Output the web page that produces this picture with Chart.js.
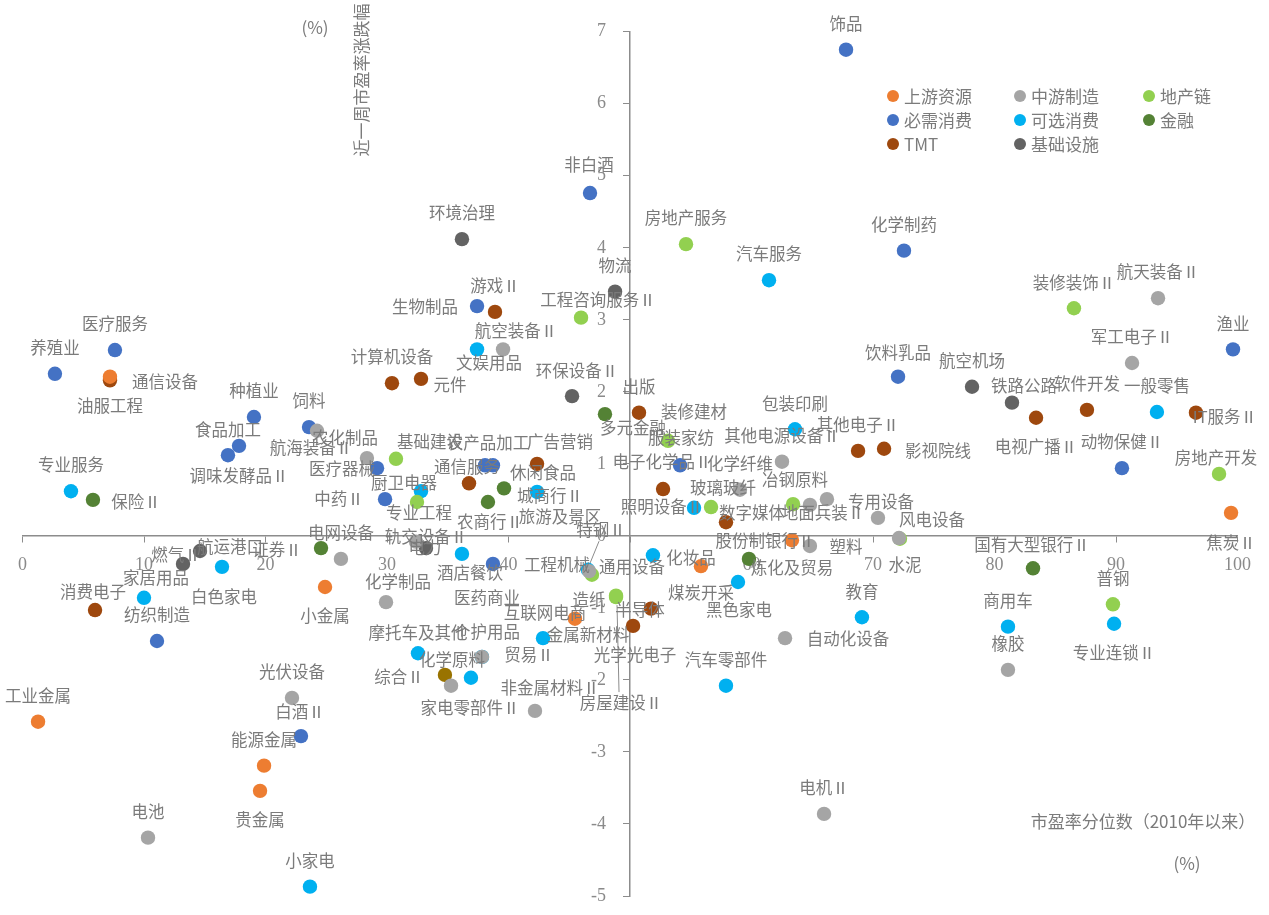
<!DOCTYPE html>
<html>
<head>
<meta charset="utf-8">
<script src="https://cdn.jsdelivr.net/npm/chart.js@4.4.0/dist/chart.umd.min.js"></script>
<style>
  html, body { margin: 0; background: #fff; }
  #wrap { width: 1269px; height: 915px; }
</style>
</head>
<body>
<div id="wrap"><canvas id="chart"></canvas></div>
<script>
// [行业, 市盈率分位数(%), 近一周市盈率涨跌幅(%)]
const upstream = [
  ['油服工程', 7.20, 2.21], ['小金属', 24.90, -0.71], ['互联网电商', 45.47, -1.15],
  ['工业金属', 1.28, -2.58], ['能源金属', 19.88, -3.19], ['贵金属', 19.55, -3.54],
  ['焦炭Ⅱ', 99.47, 0.32], ['炼化及贸易', 63.33, -0.06], ['煤炭开采', 55.84, -0.42]
];
const midstream = [
  ['航天装备Ⅱ', 93.46, 3.30], ['航空装备Ⅱ', 39.55, 2.59], ['航海装备Ⅱ', 24.24, 1.46],
  ['农化制品', 28.35, 1.08], ['电网设备', 26.21, -0.32], ['轨交设备Ⅱ', 32.39, -0.08],
  ['化学制品', 29.92, -0.92], ['特钢Ⅱ', 46.63, -0.49], ['贸易Ⅱ', 37.82, -1.68],
  ['家电零部件Ⅱ', 35.27, -2.08], ['非金属材料Ⅱ', 42.18, -2.43], ['光伏设备', 22.18, -2.25],
  ['电池', 10.33, -4.19], ['军工电子Ⅱ', 91.32, 2.40], ['橡胶', 81.11, -1.86],
  ['其他电源设备Ⅱ', 62.51, 1.03], ['化学纤维', 59.05, 0.64], ['地面兵装Ⅱ', 66.21, 0.51],
  ['冶钢原料', 64.81, 0.43], ['专用设备', 70.41, 0.25], ['风电设备', 72.14, -0.03],
  ['塑料', 64.81, -0.14], ['自动化设备', 62.76, -1.42], ['电机Ⅱ', 65.97, -3.86]
];
const property = [
  ['房地产服务', 54.61, 4.05], ['装修装饰Ⅱ', 86.54, 3.16], ['工程咨询服务Ⅱ', 45.97, 3.03],
  ['基础建设', 30.74, 1.07], ['专业工程', 32.47, 0.47], ['通用设备', 46.87, -0.54],
  ['房屋建设Ⅱ', 48.85, -0.85], ['造纸', 48.85, -0.83], ['装修建材', 53.13, 1.32],
  ['玻璃玻纤', 56.67, 0.40], ['', 63.42, 0.44], ['水泥', 72.22, -0.04],
  ['普钢', 89.75, -0.95], ['房地产开发', 98.48, 0.86]
];
const staples = [
  ['饰品', 67.78, 6.75], ['非白酒', 46.71, 4.76], ['化学制药', 72.55, 3.96],
  ['生物制品', 37.41, 3.19], ['医疗服务', 7.61, 2.58], ['养殖业', 2.67, 2.25],
  ['种植业', 19.05, 1.65], ['饲料', 23.58, 1.51], ['食品加工', 17.82, 1.25],
  ['调味发酵品Ⅱ', 16.91, 1.12], ['医疗器械', 29.18, 0.94], ['农产品加工', 38.07, 0.98],
  ['休闲食品', 38.72, 0.98], ['中药Ⅱ', 29.84, 0.51], ['医药商业', 38.72, -0.39],
  ['纺织制造', 11.07, -1.46], ['白酒Ⅱ', 22.92, -2.78], ['饮料乳品', 72.06, 2.21],
  ['渔业', 99.63, 2.59], ['动物保健Ⅱ', 90.49, 0.94], ['服装家纺', 54.12, 0.98]
];
const discretionary = [
  ['汽车服务', 61.44, 3.55], ['文娱用品', 37.41, 2.59], ['专业服务', 3.99, 0.62],
  ['厨卫电器', 32.80, 0.62], ['旅游及景区', 42.35, 0.61], ['酒店餐饮', 36.17, -0.25],
  ['工程机械', 46.54, -0.47], ['金属新材料', 42.84, -1.42], ['摩托车及其他', 32.55, -1.63],
  ['个护用品', 37.82, -1.68], ['化学原料', 36.91, -1.97], ['白色家电', 16.42, -0.43],
  ['家居用品', 10.00, -0.86], ['小家电', 23.66, -4.87], ['包装印刷', 63.58, 1.48],
  ['照明设备Ⅱ', 55.27, 0.39], ['化妆品', 51.89, -0.27], ['黑色家电', 58.89, -0.64],
  ['教育', 69.09, -1.13], ['汽车零部件', 57.90, -2.08], ['一般零售', 93.37, 1.72],
  ['专业连锁Ⅱ', 89.84, -1.22], ['商用车', 81.11, -1.26]
];
const finance = [
  ['多元金融', 47.94, 1.69], ['保险Ⅱ', 5.80, 0.50], ['城商行Ⅱ', 39.63, 0.66],
  ['农商行Ⅱ', 38.31, 0.47], ['证券Ⅱ', 24.57, -0.17], ['股份制银行Ⅱ', 59.79, -0.32],
  ['国有大型银行Ⅱ', 83.17, -0.45]
];
const tmt = [
  ['游戏Ⅱ', 38.89, 3.11], ['计算机设备', 30.41, 2.12], ['元件', 32.80, 2.18],
  ['出版', 50.74, 1.71], ['通信设备', 7.20, 2.16], ['通信服务', 36.75, 0.73],
  ['广告营销', 42.35, 1.00], ['半导体', 51.73, -1.01], ['光学光电子', 50.25, -1.25],
  ['消费电子', 5.97, -1.03], ['电子化学品Ⅱ', 52.72, 0.65], ['数字媒体', 57.90, 0.19],
  ['其他电子Ⅱ', 68.77, 1.18], ['影视院线', 70.91, 1.21], ['电视广播Ⅱ', 83.42, 1.64],
  ['软件开发', 87.61, 1.75], ['IT服务Ⅱ', 96.58, 1.71]
];
const infra = [
  ['环境治理', 36.17, 4.12], ['物流', 48.77, 3.39], ['环保设备Ⅱ', 45.23, 1.94],
  ['电力', 33.21, -0.17], ['燃气Ⅱ', 13.21, -0.39], ['航运港口', 14.61, -0.21],
  ['航空机场', 78.15, 2.07], ['铁路公路', 81.44, 1.85]
];
const misc = [['综合Ⅱ', 34.77, -1.93]];

const groupNames = ['上游资源', '中游制造', '地产链', '必需消费', '可选消费', '金融', 'TMT', '基础设施', '综合'];
const groupData = [upstream, midstream, property, staples, discretionary, finance, tmt, infra, misc];
const groupColors = ['#ED7D31', '#A5A5A5', '#92D050', '#4472C4', '#00B0F0', '#548235', '#9E480E', '#636363', '#997300'];

// label centre relative to its point, px; default is straight above
const labelOffset = {
  '油服工程': [0, 29], '小金属': [0, 29], '互联网电商': [-30, -6], '贵金属': [0, 29], '焦炭Ⅱ': [0, 30],
  '炼化及贸易': [0, 28], '煤炭开采': [0, 27],
  '航空装备Ⅱ': [13, -19], '航海装备Ⅱ': [-6, 17], '农化制品': [-22, -20], '轨交设备Ⅱ': [10, -5],
  '化学制品': [12, -20], '特钢Ⅱ': [12, -41], '贸易Ⅱ': [47, -2], '家电零部件Ⅱ': [19, 22],
  '非金属材料Ⅱ': [15, -23], '地面兵装Ⅱ': [-4, 14], '冶钢原料': [-15, -25], '专用设备': [3, -16],
  '风电设备': [33, -18], '塑料': [36, 1], '自动化设备': [63, 1],
  '工程咨询服务Ⅱ': [17, -18], '基础建设': [34, -17], '专业工程': [2, 11], '通用设备': [40, -8],
  '造纸': [-27, 4], '房屋建设Ⅱ': [5, 106], '装修建材': [26, -29], '玻璃玻纤': [12, -19],
  '水泥': [5, 26], '房地产开发': [-3, -16],
  '非白酒': [-1, -28], '生物制品': [-52, 1], '食品加工': [-11, -16], '调味发酵品Ⅱ': [11, 21],
  '医疗器械': [-35, 1], '农产品加工': [3, -23], '休闲食品': [50, 7], '中药Ⅱ': [-46, 0],
  '医药商业': [-6, 34], '白酒Ⅱ': [-1, -24], '饮料乳品': [0, -24], '服装家纺': [1, -28],
  '文娱用品': [12, 13], '厨卫电器': [-17, -8], '旅游及景区': [23, 25], '酒店餐饮': [8, 19],
  '工程机械': [-31, -5], '金属新材料': [45, -3], '摩托车及其他': [0, -21], '个护用品': [5, -25],
  '化学原料': [-19, -18], '白色家电': [2, 30], '家居用品': [12, -20], '照明设备Ⅱ': [-32, -1],
  '化妆品': [38, 2], '黑色家电': [1, 28], '专业连锁Ⅱ': [0, 29],
  '多元金融': [28, 14], '保险Ⅱ': [43, 2], '城商行Ⅱ': [46, 7], '农商行Ⅱ': [2, 20],
  '证券Ⅱ': [-44, 2], '股份制银行Ⅱ': [16, -18], '国有大型银行Ⅱ': [-1, -24],
  '元件': [29, 6], '通信设备': [55, 1], '通信服务': [-2, -17], '广告营销': [23, -22],
  '半导体': [-11, 1], '光学光电子': [2, 29], '消费电子': [-2, -18], '电子化学品Ⅱ': [-1, -27],
  '数字媒体': [26, -9], '影视院线': [54, 2], '电视广播Ⅱ': [0, 29], 'IT服务Ⅱ': [29, 4],
  '环保设备Ⅱ': [5, -25], '电力': [-1, 0], '燃气Ⅱ': [-7, -9], '航运港口': [30, -4],
  '铁路公路': [12, -17], '综合Ⅱ': [-46, 2]
};
const leaderLines = ['特钢Ⅱ', '房屋建设Ⅱ'];

const textGray = '#7b7b7b';
const cjk = '"Noto Sans CJK SC", sans-serif';

const pointLabels = {
  id: 'pointLabels',
  afterDatasetsDraw(chart) {
    const ctx = chart.ctx;
    ctx.save();
    ctx.font = '16.5px ' + cjk;
    ctx.fillStyle = textGray;
    ctx.strokeStyle = '#8c8c8c';
    ctx.lineWidth = 1;
    ctx.textAlign = 'center';
    ctx.textBaseline = 'middle';
    chart.data.datasets.forEach((ds, i) => {
      chart.getDatasetMeta(i).data.forEach((pt, j) => {
        const name = ds.data[j].name;
        if (!name) return;
        const off = labelOffset[name] || [0, -26];
        const lx = pt.x + off[0], ly = pt.y + off[1];
        if (leaderLines.includes(name)) {
          const dir = off[1] > 0 ? -1 : 1;
          ctx.beginPath();
          ctx.moveTo(lx - 2, ly + dir * 11);
          ctx.lineTo(pt.x + 1, pt.y - dir * 8);
          ctx.stroke();
        }
        ctx.fillText(name, lx, ly);
      });
    });
    ctx.restore();
  }
};

const extras = {
  id: 'extras',
  afterDraw(chart) {
    const ctx = chart.ctx;
    const xs = chart.scales.x, ys = chart.scales.y;
    const axisX = xs.getPixelForValue(50);
    ctx.save();
    // y tick labels, left of the y axis
    ctx.fillStyle = '#8a8a8a';
    ctx.font = '18px "Liberation Serif", serif';
    ctx.textAlign = 'right';
    ctx.textBaseline = 'middle';
    ys.ticks.forEach(t => ctx.fillText(String(t.value), axisX - 24, ys.getPixelForValue(t.value)));

    // axis titles
    ctx.fillStyle = textGray;
    ctx.font = '17px ' + cjk;
    ctx.textAlign = 'center';
    ctx.fillText('(%)', 315, 28);
    ctx.fillText('市盈率分位数（2010年以来）', 1143, 822);
    ctx.fillText('(%)', 1187, 864);
    ctx.save();
    ctx.translate(362, 80);
    ctx.rotate(-Math.PI / 2);
    ctx.fillText('近一周市盈率涨跌幅', 0, 0);
    ctx.restore();

    // legend, 3 columns
    const cols = [893, 1020, 1149], rows = [96, 120, 144];
    ctx.textAlign = 'left';
    ctx.font = '17px ' + cjk;
    groupNames.slice(0, 8).forEach((g, k) => {
      const cx = cols[k % 3], cy = rows[Math.floor(k / 3)];
      ctx.fillStyle = groupColors[k];
      ctx.beginPath();
      ctx.arc(cx, cy, 6, 0, Math.PI * 2);
      ctx.fill();
      ctx.fillStyle = textGray;
      ctx.fillText(g, cx + 11, cy + 1);
    });
    ctx.restore();
  }
};

const datasets = groupNames.map((g, k) => ({
  label: g,
  data: groupData[k].map(r => ({ x: r[1], y: r[2], name: r[0] })),
  backgroundColor: groupColors[k],
  borderWidth: 0,
  pointRadius: 7.2,
  pointHoverRadius: 7.2,
  clip: false
}));

new Chart(document.getElementById('chart'), {
  type: 'scatter',
  data: { datasets },
  options: {
    responsive: true,
    maintainAspectRatio: false,
    animation: false,
    layout: { padding: { left: 22.5, right: 31.5, top: 31.7, bottom: 19 } },
    plugins: { legend: { display: false }, tooltip: { enabled: false } },
    scales: {
      x: {
        type: 'linear',
        min: 0,
        max: 100,
        position: { y: 0 },
        border: { color: '#8c8c8c', width: 1.5 },
        grid: { drawOnChartArea: false, tickLength: 6, color: '#8c8c8c' },
        ticks: {
          stepSize: 10,
          padding: 13,
          maxRotation: 0,
          autoSkip: false,
          color: '#8a8a8a',
          font: { family: '"Liberation Serif", serif', size: 18 },
          callback: v => (v === 50 ? '' : v)
        }
      },
      y: {
        type: 'linear',
        min: -5,
        max: 7,
        position: { x: 50 },
        border: { color: '#8c8c8c', width: 1.5 },
        grid: { drawOnChartArea: false, tickLength: 6, color: '#8c8c8c' },
        ticks: { stepSize: 1, display: false }
      }
    }
  },
  plugins: [pointLabels, extras]
});
</script>
</body>
</html>
